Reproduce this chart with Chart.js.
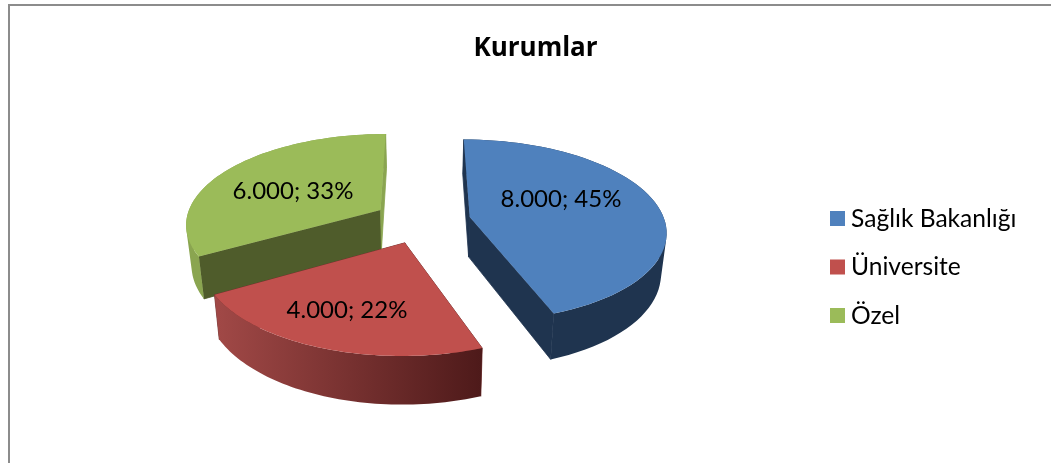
<!DOCTYPE html>
<html lang="tr">
  <head>
    <meta charset="utf-8" />
    <title>Kurumlar</title>
    <style>
      html, body { margin: 0; padding: 0; background: #fff; overflow: hidden; }
      #frame {
        position: absolute; left: 8px; top: 4px; width: 1043px; height: 459px;
        border-top: 2px solid #8c8c8c; border-left: 2px solid #8c8c8c;
        box-sizing: border-box;
      }
      #chart { position: absolute; left: 20px; top: 0; }
    </style>
  </head>
  <body>
    <div id="frame"></div>
    <canvas id="chart" width="1031" height="463"></canvas>

    <script src="https://cdn.jsdelivr.net/npm/chart.js@4.4.0/dist/chart.umd.min.js"></script>
    <script>
      const categories = ["Sağlık Bakanlığı", "Üniversite", "Özel"];
      const values = [8000, 4000, 6000];
      const percents = [45, 22, 33];

      const topColors = ["#4f81bd", "#c0504d", "#9bbb59"];
      const wallColors = ["#1f344f", ["#a04846", "#4e1a1a"], "#8aa550"];
      const startCutColors = ["#1f344f", "#6e2e2c", "#4f5c2b"];
      const endCutColors = ["#1f344f", "#6e2e2c", "#8aa550"];

      const FONT = "Lato, 'Open Sans', sans-serif";
      const CANVAS_LEFT = 20;

      // perspective of the pie plane, fitted on the slice corners
      const view = { xv: 422, yh: -403, h: 624, q: 0.144, sx: 195, depth: 40, bottomX: 0.977, explode: 0.25 };
      // label centres, page pixels
      const labelAt = [[561, 199], [347, 310], [293, 191]];
      // back to front
      const drawOrder = [2, 0, 1];

      function project(u, v, bottom) {
        const w = 1 / (1 + view.q * v);
        return [
          view.xv + view.sx * u * w * (bottom ? view.bottomX : 1) - CANVAS_LEFT,
          view.yh + (view.h + (bottom ? view.depth : 0)) * w
        ];
      }

      function addPoly(ctx, pts) {
        pts.forEach((p, i) => (i ? ctx.lineTo(p[0], p[1]) : ctx.moveTo(p[0], p[1])));
        ctx.closePath();
      }

      function fillPoly(ctx, pts, fill, seal) {
        ctx.beginPath();
        addPoly(ctx, pts);
        ctx.fillStyle = fill;
        ctx.fill();
        if (seal) {
          // hides the hairline seam between wall pieces
          ctx.strokeStyle = fill;
          ctx.lineWidth = 0.8;
          ctx.stroke();
        }
      }

      function signedArea(pts) {
        let s = 0;
        pts.forEach((p, i) => {
          const q = pts[(i + 1) % pts.length];
          s += p[0] * q[1] - q[0] * p[1];
        });
        return s;
      }

      // rim band as a union of quads, one outline would cross itself at the rim
      function fillBand(ctx, top, low, fill) {
        ctx.beginPath();
        for (let k = 0; k < top.length - 1; k++) {
          const quad = [top[k], top[k + 1], low[k + 1], low[k]];
          addPoly(ctx, signedArea(quad) < 0 ? quad.reverse() : quad);
        }
        ctx.fillStyle = fill;
        ctx.fill();
      }

      const pie3d = {
        id: "pie3d",
        // the flat arcs are replaced by the projected ones below
        beforeDatasetDraw() { return false; },
        afterDatasetsDraw(chart) {
          const ctx = chart.ctx;
          const arcs = chart.getDatasetMeta(0).data;
          drawOrder.forEach((i) => {
            const a0 = arcs[i].startAngle, a1 = arcs[i].endAngle;
            const mid = (a0 + a1) / 2;
            const cu = Math.cos(mid) * view.explode, cv = -Math.sin(mid) * view.explode;
            const rim = (bottom) => {
              const pts = [];
              for (let k = 0; k <= 60; k++) {
                const a = a0 + ((a1 - a0) * k) / 60;
                pts.push(project(cu + Math.cos(a), cv - Math.sin(a), bottom));
              }
              return pts;
            };
            const top = rim(false), low = rim(true);
            const apex = project(cu, cv, false), apexLow = project(cu, cv, true);

            let wall = wallColors[i];
            if (Array.isArray(wall)) {
              const g = ctx.createLinearGradient(low[60][0], 0, low[0][0], 0);
              g.addColorStop(0, wall[0]);
              g.addColorStop(1, wall[1]);
              wall = g;
            }
            fillPoly(ctx, [apex, top[0], low[0], apexLow], startCutColors[i], true);
            fillPoly(ctx, [apex, top[60], low[60], apexLow], endCutColors[i], true);
            fillBand(ctx, top, low, wall);
            fillPoly(ctx, [apex].concat(top), arcs[i].options.backgroundColor);
          });

          ctx.save();
          ctx.font = "24px " + FONT;
          ctx.fillStyle = "#000";
          ctx.textAlign = "center";
          ctx.textBaseline = "middle";
          values.forEach((v, i) => {
            const text = v.toLocaleString("de-DE") + "; " + percents[i] + "%";
            ctx.fillText(text, labelAt[i][0] - CANVAS_LEFT, labelAt[i][1]);
          });
          ctx.restore();

          // legend with the tight box to text gap of the original
          ctx.save();
          ctx.font = "24.6px " + FONT;
          ctx.textBaseline = "middle";
          categories.forEach((c, i) => {
            const y = 211 + i * 48.5;
            ctx.fillStyle = topColors[i];
            ctx.fillRect(830 - CANVAS_LEFT, y, 15, 15);
            ctx.fillStyle = "#000";
            ctx.fillText(c, 851 - CANVAS_LEFT, y + 8);
          });
          ctx.restore();
        }
      };

      new Chart(document.getElementById("chart"), {
        type: "pie",
        data: {
          labels: categories,
          datasets: [{ data: values, backgroundColor: topColors, borderWidth: 0 }]
        },
        options: {
          responsive: false,
          animation: false,
          plugins: {
            legend: { display: false },
            tooltip: { enabled: false },
            title: {
              display: true,
              text: "Kurumlar",
              color: "#000",
              font: { family: "'Open Sans', Lato, sans-serif", size: 26, weight: "bold" },
              padding: { top: 33, bottom: 10 }
            }
          }
        },
        plugins: [pie3d]
      });
    </script>
  </body>
</html>
